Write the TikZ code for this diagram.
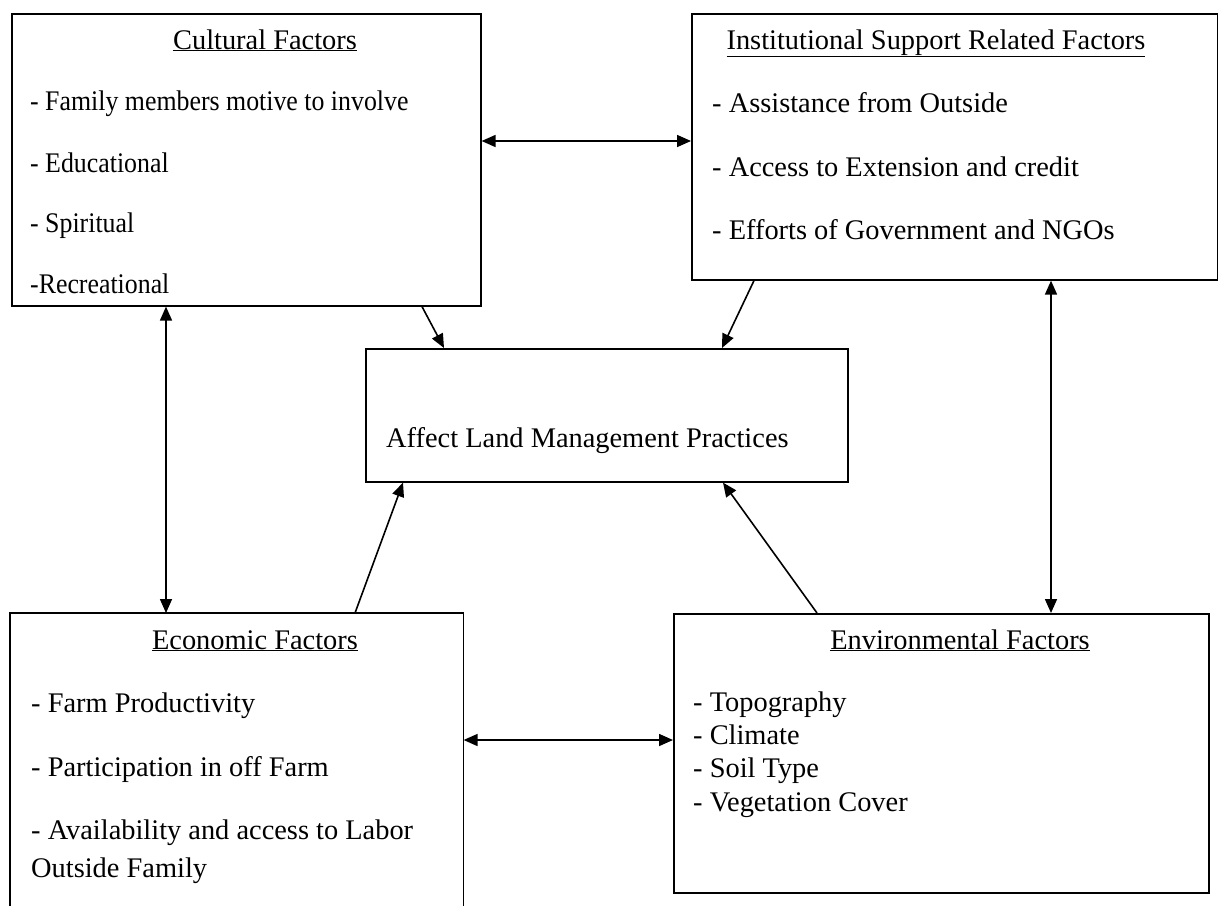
\documentclass[tikz,border=0pt]{standalone}
\usepackage{fontspec}
\setmainfont{Liberation Serif}
\newfontfamily\narrowserif[FakeStretch=0.91]{Liberation Serif}
\usetikzlibrary{arrows.meta}

\begin{document}
\begin{tikzpicture}[x=1pt,y=-1pt,
    box/.style={draw,line width=1.6pt,rectangle,anchor=north west,inner sep=0pt},
    txt/.style={anchor=base west,inner sep=0pt,font=\fontsize{28.4pt}{34pt}\selectfont},
    ntxt/.style={txt,font=\narrowserif\fontsize{28.4pt}{34pt}\selectfont},
    ttl/.style={anchor=base,inner sep=0pt,font=\fontsize{28.4pt}{34pt}\selectfont},
    oneway/.style={line width=1.6pt,-{Triangle[length=14pt,width=12pt]}},
    twoway/.style={line width=1.6pt,{Triangle[length=14pt,width=12pt]}-{Triangle[length=14pt,width=12pt]}}]
    \useasboundingbox (0,0) rectangle (1218,905);
    % boxes
    \node[box,minimum width=469pt,minimum height=292pt] (cult) at (11,13) {};
    \node[box,minimum width=526pt,minimum height=266pt] (inst) at (691,13) {};
    \node[box,minimum width=482pt,minimum height=133pt] (lmp) at (365,348) {};
    \node[box,draw=none,minimum width=452pt,minimum height=292pt] (econ) at (10,613) {};
    \draw[line width=1.6pt] (econ.south west) |- (econ.north east) -- (econ.south east);
    \node[box,minimum width=535pt,minimum height=279pt] (env) at (673,613) {};
    % texts
    \node[ttl] (cultT) at (265,49) {\underline{Cultural Factors}};
    \node[ntxt] (cult1) at (30,110) {- Family members motive to involve};
    \node[ntxt] (cult2) at (30,172) {- Educational};
    \node[ntxt] (cult3) at (30,232) {- Spiritual};
    \node[ntxt] (cult4) at (30,293) {-Recreational};
    \node[ttl] (instT) at (936,49) {\underline{Institutional Support Related Factors}};
    \node[txt] (inst1) at (712,112) {- Assistance from Outside};
    \node[txt] (inst2) at (712,176) {- Access to Extension and credit};
    \node[txt] (inst3) at (712,239) {- Efforts of Government and NGOs};
    \node[txt] (lmpT) at (386,447) {Affect Land Management Practices};
    \node[ttl] (econT) at (255,649) {\underline{Economic Factors}};
    \node[txt] (econ1) at (31,712) {- Farm Productivity};
    \node[txt] (econ2) at (31,776) {- Participation in off Farm};
    \node[txt] (econ3) at (31,839) {- Availability and access to Labor};
    \node[txt] (econ4) at (31,877) {Outside Family};
    \node[ttl] (envT) at (960,649) {\underline{Environmental Factors}};
    \node[txt] (env1) at (693,711) {- Topography};
    \node[txt] (env2) at (693,744) {- Climate};
    \node[txt] (env3) at (693,777) {- Soil Type};
    \node[txt] (env4) at (693,811) {- Vegetation Cover};
    % arrows
    \coordinate (h1) at (0,141);
    \coordinate (h2) at (0,740);
    \coordinate (v1) at (166,0);
    \coordinate (v2) at (1051,0);
    \draw[twoway] (cult.east |- h1) -- (inst.west |- h1);
    \draw[twoway] (econ.east |- h2) -- (env.west |- h2);
    \draw[twoway] (cult.south -| v1) -- (econ.north -| v1);
    \draw[twoway] (inst.south -| v2) -- (env.north -| v2);
    \draw[oneway] ([xshift=411pt]cult.south west) -- ([xshift=79pt]lmp.north west);
    \draw[oneway] ([xshift=63pt]inst.south west) -- ([xshift=357pt]lmp.north west);
    \draw[oneway] ([xshift=345pt]econ.north west) -- ([xshift=38pt]lmp.south west);
    \draw[oneway] ([xshift=144pt]env.north west) -- ([xshift=358pt]lmp.south west);
\end{tikzpicture}
\end{document}
